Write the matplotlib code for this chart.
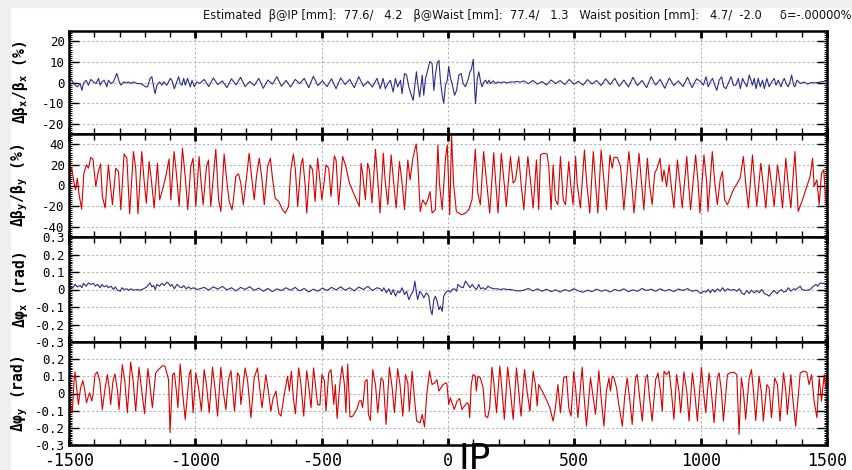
import numpy as np
import matplotlib
matplotlib.use('Agg')
import matplotlib.pyplot as plt
from matplotlib.ticker import MultipleLocator
from matplotlib.patches import Rectangle

# ---------------- data ----------------
# (s [mm], value) pairs, split in the parts that were read separately

# dBx/Bx (%)
bx_a = [(-1500, 1.5), (-1496, 2.0), (-1485, 0.3), (-1476, -1.3), (-1467, -2.1), (-1456, -0.5), (-1449, -3.8),
        (-1443, -0.5), (-1432, 1.1), (-1423, -1.3), (-1414, 1.5), (-1403, 0.3), (-1393, -0.5), (-1383, 2.0),
        (-1377, -1.3), (-1370, 0.3), (-1361, 1.1), (-1350, -2.1), (-1344, 1.1), (-1334, -0.5), (-1324, 0.3),
        (-1311, 4.4), (-1301, 0.3), (-1294, -1.3), (-1284, 0.3), (-1274, -0.2), (-1264, 0.3), (-1255, -0.5),
        (-1245, 0.3), (-1231, -0.5), (-1218, -0.5), (-1205, -1.3), (-1198, -2.1), (-1189, -2.1), (-1179, 2.0),
        (-1172, 2.8), (-1165, -2.1), (-1159, -5.4), (-1152, -1.3), (-1142, 0.3), (-1132, -1.3), (-1126, 0.3),
        (-1113, -1.3), (-1099, 2.0), (-1093, 1.1), (-1083, -3.0), (-1076, -0.5), (-1066, 2.8), (-1060, -0.5),
        (-1053, -1.3), (-1046, 2.0), (-1040, -1.3), (-1031, 2.0), (-1020, -2.1), (-1013, 1.1), (-1004, -2.1),
        (-994, 0.3), (-983, -0.5)]
bx_b_s = np.arange(-965, -280, 18)
bx_b = [1.5, -2.0, 2.2, -1.0, 0.8, -2.5, 1.8, -1.2, 2.5, -2.0, 0.5, -1.5, 2.0, -2.8, 1.2, -0.8, 2.8, -1.8, 1.0,
        -2.2, 1.5, -0.5, 2.0, -2.5, 3.0, -1.5, 0.8, -2.0, 1.8, -3.0, 2.2, -1.0, 1.5, -2.5, 2.8, -1.8, 0.6, -2.2, 2.0]
bx_c = [(-268, -3.0), (-257, 2.0), (-248, -3.0), (-238, -0.5), (-228, 1.1), (-217, -4.6), (-208, 2.0), (-199, -2.1),
        (-188, 1.1), (-182, -5.4), (-172, 4.4), (-164, 3.6), (-155, -2.1), (-149, -4.6), (-138, -8.7), (-129, 1.1),
        (-125, 5.2), (-120, -0.5), (-112, -7.0), (-102, 3.6), (-96, -6.2), (-89, 2.0), (-80, 6.1), (-72, 10.2),
        (-63, 9.3), (-56, -3.8), (-50, 3.6), (-43, 9.3), (-36, 10.7), (-30, 1.1), (-23, -6.2), (-17, -10.0),
        (-10, -1.3), (-3, 1.1), (3, 7.7), (10, 2.0), (16, -0.5), (26, -6.2), (34, -3.8), (43, 3.6), (52, 4.4),
        (60, -0.5), (69, -2.1), (79, 1.1), (87, 5.2), (92, 6.1), (100, 11.3), (105, -2.1), (109, -10.3), (116, 2.0),
        (122, 5.2), (129, 0.3), (135, -2.1), (142, 0.3), (149, 1.1), (155, -0.5), (162, 1.1), (168, -0.5),
        (179, 0.8), (188, -0.5), (197, 0.3), (208, -0.2), (221, 0.3), (234, -0.2), (248, 0.3), (261, 0.2),
        (274, 0.5), (287, 0.2)]
bx_d_s = np.arange(300, 985, 18)
bx_d = [0.8, -0.6, 1.0, -0.8, 0.5, -1.2, 1.2, -0.5, 0.9, -1.0, 1.5, -0.8, 0.6, -1.3, 1.4, -0.7, 1.0, -1.5, 1.8,
        -1.0, 2.0, -1.8, 1.2, -2.2, 2.5, -1.5, 1.0, -2.5, 2.8, -1.2, 1.5, -2.8, 2.2, -1.5, 0.8, -2.0, 2.5, -2.5, 1.8]
bx_e = [(1001, 0.3), (1011, -1.3), (1021, 2.8), (1030, -2.1), (1038, 0.3), (1047, 2.0), (1056, -1.3), (1064, -3.8),
        (1073, 1.1), (1083, 2.8), (1091, -2.1), (1100, -3.0), (1109, -0.5), (1120, 2.8), (1130, -1.3), (1139, -1.3),
        (1149, 2.0), (1157, -3.0), (1166, 2.0), (1172, 0.3), (1183, -2.1), (1192, 3.6), (1199, 1.1), (1205, -1.3),
        (1212, 2.0), (1219, -3.0), (1228, 2.0), (1236, -2.1), (1245, 1.1), (1252, -3.0), (1262, 2.0), (1271, -2.1),
        (1281, 0.3), (1291, 2.0), (1298, -1.3), (1307, 1.1), (1318, -2.1), (1324, 0.3), (1331, 2.0), (1338, -0.5),
        (1347, -2.1), (1355, 1.1), (1360, 3.6), (1368, -1.3), (1373, -2.1), (1381, 1.1), (1388, 0.3), (1397, -0.5),
        (1410, 0.3), (1423, -0.8), (1437, 0.0), (1450, -0.2), (1463, 0.0), (1476, 0.3), (1496, 0.7), (1500, 0.7)]

# dBy/By (%)
by_a = [(-1500, 8.7), (-1489, 16.8), (-1480, 2.3), (-1474, -4.2), (-1467, 7.1), (-1460, -9.0), (-1450, -22.9),
        (-1441, 11.9), (-1431, 20.0), (-1423, 16.8), (-1414, 27.1), (-1405, 25.5), (-1394, -1.0), (-1384, 13.5),
        (-1375, 21.0), (-1368, -10.6), (-1357, -21.9), (-1344, 20.0), (-1335, -2.6), (-1328, -18.7), (-1315, 16.8),
        (-1304, 13.5), (-1295, -23.5), (-1282, 30.6), (-1271, 26.5), (-1260, -27.4), (-1245, 32.9), (-1236, 16.8),
        (-1227, -27.4), (-1212, 32.9), (-1203, 5.5), (-1194, -17.1), (-1183, 23.2), (-1174, 5.5), (-1163, -21.9),
        (-1150, 21.6), (-1141, -13.9), (-1130, -4.2), (-1117, 8.7), (-1104, 25.8), (-1097, -13.9), (-1084, 32.9),
        (-1075, 11.9), (-1064, -20.3), (-1051, 36.1), (-1040, 8.7), (-1030, -23.5), (-1018, 18.4), (-1009, 26.5),
        (-998, -20.3), (-985, 28.1), (-978, 5.5), (-969, -18.7), (-956, 18.4), (-948, 24.8), (-939, -20.3),
        (-919, 35.2), (-908, -13.9), (-899, -25.2), (-886, 30.6), (-876, 5.5), (-866, -15.5), (-855, -23.5),
        (-850, -15.5), (-840, 8.7), (-829, 11.3), (-820, 2.3), (-810, -18.7), (-797, 8.7), (-787, 31.3),
        (-776, 5.5), (-767, -13.9), (-758, 8.7), (-747, 26.5), (-736, 5.5), (-727, -18.7), (-714, 18.4),
        (-703, 26.5), (-694, 5.5), (-684, -12.3), (-670, -15.5), (-655, -23.5), (-644, -26.8), (-631, -20.3),
        (-622, 15.2), (-612, 30.6), (-604, 15.2), (-595, -20.3), (-582, 20.0), (-575, 26.5), (-565, -1.0),
        (-559, -26.8), (-546, 20.0), (-536, 15.2), (-526, -15.5), (-516, 26.5), (-507, 5.5), (-499, -13.9),
        (-489, 5.5), (-483, 20.0), (-472, 16.8), (-463, -10.6), (-450, 28.7), (-443, 24.8), (-433, -18.7),
        (-417, 28.1), (-406, 20.0), (-390, 2.3), (-371, -9.0), (-351, -20.3), (-344, 21.6), (-338, 11.9),
        (-327, -13.9), (-318, 21.6), (-311, 15.2), (-301, -17.1), (-287, 35.2), (-278, 5.5), (-269, -26.8),
        (-256, 31.3), (-248, 2.3), (-238, -18.7), (-225, 29.7), (-216, 5.5), (-205, -21.9), (-192, 23.2),
        (-183, 5.5), (-172, -23.5), (-159, 24.8), (-150, 5.5), (-139, 26.5), (-126, 40.3), (-120, 24.8),
        (-110, -25.2), (-100, -13.9), (-89, -18.7), (-80, -13.9), (-71, -5.8), (-63, -26.8), (-50, -23.5),
        (-40, 39.4), (-34, 2.3), (-23, -23.5), (-10, 26.5), (-3, 39.4)]
by_b = [(7, -28.4), (14, 49.0), (22, 2.3), (33, -25.2), (42, -26.8), (55, -28.4), (69, -26.8), (82, -23.5),
        (95, -13.9), (108, 35.2), (118, -7.4), (128, -18.7), (141, 32.9), (152, 5.5), (165, -26.8), (181, 31.9),
        (188, 5.5), (198, -26.8), (211, 31.3), (221, 5.5), (231, -20.3), (247, 28.1), (258, 2.3), (267, 5.5),
        (280, 28.1), (289, 2.3), (300, -23.5), (316, 28.1), (326, 5.5), (337, -21.9), (350, 24.8), (359, -23.5),
        (366, 29.7), (379, 31.3), (392, 30.6), (399, 18.4), (408, -23.5), (416, 20.0), (425, -13.9), (435, -18.7),
        (445, 28.1), (456, -13.9), (465, -18.7), (478, 23.2), (485, 2.3), (495, -18.7), (505, 28.1), (511, 2.3),
        (524, -21.9), (540, 34.5), (548, 5.5), (561, -26.8), (575, 32.9), (584, 2.3), (593, -26.8), (606, 34.5),
        (617, 5.5), (627, -23.5), (641, 29.7), (650, 16.8), (657, 27.4), (670, 27.1), (683, 18.4), (696, -23.5),
        (716, 32.9), (727, 2.3), (736, -26.8), (756, 31.3), (765, 5.5), (775, -23.5), (789, 26.5), (797, 2.3),
        (808, -18.7), (818, 11.9), (828, 16.8), (839, 26.5), (848, 3.9), (855, 15.2), (865, -1.0), (875, 20.0),
        (884, -1.0), (894, -21.9), (908, 24.8), (918, 2.3), (927, -21.9), (945, 28.1), (952, 2.3), (960, -23.5),
        (980, 29.7), (990, 2.3), (997, -26.8), (1013, 29.7), (1024, 2.3), (1029, -25.2), (1046, 32.9), (1056, 2.3),
        (1066, -18.7), (1077, 5.5), (1086, 13.5), (1095, -13.9), (1106, -18.7), (1116, -12.3), (1129, -4.2),
        (1145, 2.3), (1156, 7.1), (1169, 28.1), (1178, 2.3), (1189, -21.9), (1205, 29.7), (1214, 2.3),
        (1222, -20.3), (1238, 21.6), (1247, 2.3), (1258, -21.9), (1271, 20.0), (1280, 2.3), (1291, -20.3),
        (1304, 20.0), (1314, 2.3), (1324, -21.9), (1337, 26.5), (1346, 2.3), (1357, -21.9), (1373, 32.9),
        (1380, 2.3), (1386, -25.2), (1403, -13.9), (1416, -4.2), (1433, 8.7), (1443, 26.5), (1449, -1.0),
        (1460, 5.5), (1469, -18.7), (1478, 11.9), (1487, 15.2), (1495, -13.9), (1500, -23.5)]

# dphi_x (rad)
px_a = [(-1500, 0.015), (-1496, 0.015), (-1485, 0.010), (-1476, 0.029), (-1467, 0.015), (-1456, 0.023),
        (-1449, 0.010), (-1443, 0.035), (-1432, 0.019), (-1423, 0.038), (-1414, 0.029), (-1403, 0.035),
        (-1396, 0.019), (-1387, 0.029), (-1377, 0.010), (-1370, 0.029), (-1361, 0.015), (-1350, 0.023),
        (-1344, 0.010), (-1334, 0.019), (-1324, 0.0), (-1317, 0.015), (-1308, -0.004), (-1297, -0.010),
        (-1291, 0.010), (-1282, 0.0), (-1271, 0.004), (-1264, -0.006), (-1255, 0.004), (-1245, -0.004),
        (-1231, 0.0), (-1218, -0.004), (-1205, 0.004), (-1192, 0.015), (-1179, 0.038), (-1172, 0.015),
        (-1165, 0.023), (-1159, 0.0), (-1152, 0.029), (-1142, 0.019), (-1132, 0.035), (-1123, 0.023),
        (-1113, 0.042), (-1106, 0.035), (-1099, 0.019), (-1093, 0.029), (-1083, 0.004), (-1073, 0.029),
        (-1062, 0.015), (-1053, 0.010), (-1046, 0.023), (-1036, 0.004), (-1027, 0.015), (-1017, 0.004),
        (-1007, 0.010), (-994, 0.0), (-983, 0.004)]
px_b_s = np.arange(-965, -280, 18)
px_b = [0.012, -0.004, 0.015, 0.002, 0.018, -0.002, 0.010, -0.008, 0.012, 0.000, 0.016, -0.005, 0.008, -0.010,
        0.006, -0.012, 0.004, -0.006, 0.010, -0.004, 0.012, -0.008, 0.006, -0.014, 0.002, -0.010, 0.008, -0.006,
        0.012, -0.002, 0.015, -0.004, 0.010, -0.008, 0.014, 0.000, 0.018, -0.006, 0.010]
px_c = [(-268, 0.004), (-261, -0.010), (-254, 0.010), (-244, -0.019), (-234, 0.004), (-225, -0.029), (-217, 0.0),
        (-208, -0.038), (-199, -0.010), (-191, -0.019), (-182, 0.010), (-172, -0.029), (-164, -0.010),
        (-155, -0.058), (-146, -0.029), (-138, -0.010), (-131, 0.048), (-125, -0.019), (-120, -0.058),
        (-112, -0.010), (-102, -0.029), (-96, -0.048), (-85, -0.019), (-76, -0.038), (-69, -0.115), (-63, -0.144),
        (-56, -0.058), (-50, -0.038), (-43, -0.067), (-36, -0.115), (-30, -0.096), (-23, -0.125), (-17, -0.038),
        (-10, -0.019), (-3, -0.010), (3, -0.006), (10, -0.015), (16, 0.0), (26, 0.004), (34, -0.010), (39, 0.029),
        (50, 0.015), (60, 0.010), (69, 0.048), (79, 0.029), (87, 0.010), (96, 0.029), (105, 0.010), (113, 0.0),
        (122, 0.029), (129, 0.004), (139, 0.010), (149, 0.0), (158, 0.019), (168, 0.010), (182, 0.004),
        (195, 0.004), (208, 0.0), (221, 0.004), (234, 0.0), (248, 0.0), (261, -0.004), (274, -0.008), (287, -0.008)]
px_d_s = np.arange(300, 985, 18)
px_d = [-0.004, 0.006, -0.008, 0.004, -0.010, 0.002, -0.012, -0.002, -0.015, 0.000, -0.010, 0.004, -0.008,
        -0.016, -0.004, -0.012, 0.002, -0.010, -0.002, -0.014, 0.000, -0.008, 0.004, -0.012, -0.002, -0.010,
        0.006, -0.006, 0.002, -0.010, 0.004, -0.008, 0.000, -0.012, 0.003, -0.006, 0.005, -0.010, -0.004]
px_e = [(1001, -0.023), (1011, -0.010), (1021, -0.015), (1030, 0.0), (1038, -0.019), (1047, 0.0), (1056, -0.015),
        (1067, 0.004), (1077, -0.010), (1087, 0.010), (1096, -0.010), (1106, 0.004), (1120, -0.004), (1133, 0.0),
        (1143, -0.010), (1153, 0.004), (1162, -0.019), (1172, -0.029), (1183, -0.006), (1192, -0.023),
        (1201, -0.004), (1212, -0.019), (1223, -0.006), (1232, -0.019), (1241, 0.0), (1252, -0.023),
        (1262, -0.029), (1271, -0.038), (1281, -0.019), (1291, -0.006), (1302, -0.023), (1311, -0.010),
        (1320, 0.0), (1328, -0.015), (1338, -0.010), (1347, 0.010), (1357, -0.010), (1368, 0.004), (1377, 0.0),
        (1386, 0.010), (1394, 0.019), (1400, 0.0), (1410, -0.004), (1423, -0.004), (1434, 0.0), (1443, 0.015),
        (1456, 0.029), (1463, 0.019), (1474, 0.038), (1483, 0.035), (1496, 0.035), (1500, 0.035)]

# dphi_y (rad)
py_a = [(-1500, -0.006), (-1493, -0.073), (-1487, -0.112), (-1480, 0.072), (-1476, 0.126), (-1471, 0.052),
        (-1463, -0.064), (-1454, 0.033), (-1445, 0.075), (-1437, 0.014), (-1431, -0.054), (-1423, -0.015),
        (-1418, 0.004), (-1410, -0.044), (-1405, -0.006), (-1397, 0.110), (-1388, 0.126), (-1378, 0.072),
        (-1368, -0.093), (-1357, 0.033), (-1348, 0.110), (-1341, 0.033), (-1335, -0.064), (-1326, 0.072),
        (-1318, 0.114), (-1308, 0.014), (-1302, -0.093), (-1289, 0.168), (-1279, 0.072), (-1269, -0.112),
        (-1256, 0.182), (-1246, 0.072), (-1236, -0.103), (-1223, 0.153), (-1212, 0.014), (-1201, -0.118),
        (-1188, 0.145), (-1180, 0.052), (-1170, -0.083), (-1157, 0.120), (-1146, 0.139), (-1130, 0.162),
        (-1120, 0.159), (-1106, 0.081), (-1100, -0.228), (-1090, 0.110), (-1083, 0.120), (-1075, 0.014),
        (-1069, -0.083), (-1060, 0.172), (-1051, 0.014), (-1040, -0.151), (-1024, 0.110), (-1018, 0.139),
        (-1009, -0.112), (-998, 0.120), (-987, 0.033), (-976, -0.103), (-965, 0.139), (-956, 0.052),
        (-945, -0.112), (-932, 0.153), (-921, 0.014), (-912, -0.132), (-899, 0.153), (-890, 0.014),
        (-879, -0.093), (-869, 0.081), (-859, 0.133), (-853, 0.033), (-845, -0.103), (-833, 0.120),
        (-826, 0.101), (-820, -0.064), (-803, 0.149), (-793, 0.072), (-780, -0.141), (-767, 0.091),
        (-754, 0.149), (-744, 0.014), (-736, -0.083), (-721, 0.110), (-711, 0.014), (-701, -0.103),
        (-692, -0.025), (-681, 0.014), (-670, -0.112), (-661, -0.132), (-648, -0.006), (-635, 0.101),
        (-628, 0.014), (-620, 0.130), (-612, -0.025), (-604, -0.118), (-591, 0.149), (-582, 0.052),
        (-571, -0.132), (-559, 0.133), (-552, 0.052), (-542, -0.083), (-532, 0.149), (-522, 0.014),
        (-516, -0.064), (-507, -0.068), (-499, 0.110), (-489, 0.072), (-483, -0.103), (-472, 0.120),
        (-463, 0.139), (-452, -0.064), (-446, 0.052), (-439, -0.145), (-427, 0.072), (-419, 0.159),
        (-410, 0.052), (-404, -0.112), (-397, 0.172), (-388, -0.137), (-377, -0.132), (-361, -0.093),
        (-351, -0.044), (-344, -0.041), (-338, -0.083), (-328, 0.072), (-320, 0.081), (-315, -0.122),
        (-307, -0.157), (-298, 0.139), (-287, 0.052), (-278, -0.112), (-265, 0.091), (-256, 0.072),
        (-245, -0.180), (-232, 0.153), (-221, 0.033), (-212, -0.112), (-199, 0.145), (-190, 0.052),
        (-179, -0.132), (-168, 0.110), (-159, 0.062), (-153, -0.103), (-142, 0.130), (-133, -0.025),
        (-124, -0.161), (-110, -0.170), (-102, -0.122), (-93, -0.195), (-84, -0.006), (-73, 0.130),
        (-63, 0.052), (-53, 0.062), (-44, 0.081), (-36, 0.014), (-20, 0.052), (-7, 0.062)]
py_b = [(-4, 0.052), (3, -0.064), (9, -0.025), (16, -0.054), (25, -0.093), (36, -0.044), (46, -0.029),
        (55, -0.093), (65, -0.073), (75, -0.054), (82, -0.064), (86, -0.141), (92, 0.052), (99, 0.110),
        (108, 0.101), (112, 0.014), (118, 0.101), (128, 0.091), (139, 0.033), (148, -0.132), (157, -0.141),
        (165, -0.083), (174, 0.153), (181, 0.072), (192, -0.112), (205, 0.159), (214, 0.014), (223, -0.151),
        (236, 0.153), (247, 0.014), (258, -0.151), (271, 0.149), (280, 0.014), (289, -0.132), (303, 0.139),
        (313, 0.014), (324, -0.103), (337, 0.130), (346, 0.052), (353, -0.073), (359, 0.052), (373, 0.014),
        (392, -0.044), (403, -0.083), (416, -0.161), (425, -0.083), (435, 0.052), (445, -0.112), (458, 0.091),
        (469, 0.101), (478, -0.083), (487, -0.132), (498, 0.130), (505, 0.033), (514, -0.141), (531, 0.153),
        (538, -0.006), (548, -0.190), (564, 0.091), (575, -0.025), (584, -0.122), (597, 0.133), (606, -0.025),
        (617, -0.190), (627, 0.014), (637, 0.091), (643, 0.014), (650, 0.101), (657, 0.091), (667, 0.033),
        (676, -0.064), (690, -0.190), (699, -0.025), (709, 0.091), (720, -0.044), (729, -0.180), (742, 0.091),
        (749, 0.110), (760, -0.044), (769, -0.161), (782, 0.091), (789, 0.110), (799, -0.044), (808, -0.161),
        (822, 0.081), (831, 0.120), (841, 0.014), (848, -0.103), (855, 0.130), (865, 0.110), (875, 0.130),
        (884, 0.014), (894, -0.151), (905, 0.110), (914, 0.014), (921, -0.112), (934, 0.126), (945, 0.014),
        (954, -0.161), (967, 0.120), (976, 0.014), (987, -0.161), (1003, 0.153), (1011, 0.014), (1020, -0.112),
        (1033, 0.120), (1042, 0.014), (1053, -0.170), (1066, 0.091), (1073, 0.120), (1082, 0.014),
        (1090, -0.161), (1106, 0.110), (1116, 0.120), (1132, 0.124), (1143, 0.110), (1152, -0.238),
        (1161, 0.091), (1169, 0.014), (1178, -0.151), (1192, 0.091), (1201, 0.139), (1209, 0.014),
        (1218, -0.157), (1231, 0.101), (1240, 0.014), (1248, -0.161), (1262, 0.052), (1271, 0.033),
        (1280, -0.141), (1293, 0.091), (1304, 0.052), (1314, -0.161), (1328, 0.120), (1337, 0.014),
        (1343, -0.122), (1357, 0.110), (1363, -0.006), (1376, -0.190), (1394, 0.120), (1407, 0.130),
        (1420, 0.124), (1429, 0.052), (1439, 0.110), (1449, -0.044), (1460, -0.141), (1469, 0.091),
        (1478, -0.044), (1489, 0.110), (1495, 0.033), (1500, 0.110)]

header = ('Estimated  \u03b2@IP [mm]:  77.6/   4.2   \u03b2@Waist [mm]:  77.4/   1.3   '
          'Waist position [mm]:   4.7/  -2.0     \u03b4=-.00000%')
x_ticks = [-1500, -1000, -500, 0, 500, 1000, 1500]


def join(*parts):
    s, v = [], []
    for p in parts:
        if isinstance(p, tuple):
            s.extend(p[0]); v.extend(p[1])
        else:
            s.extend(q[0] for q in p); v.extend(q[1] for q in p)
    return np.array(s, float), np.array(v, float)


bx = join(bx_a, (bx_b_s, bx_b), bx_c, (bx_d_s, bx_d), bx_e)
by = join(by_a, by_b)
phx = join(px_a, (px_b_s, px_b), px_c, (px_d_s, px_d), px_e)
phy = join(py_a, py_b)

plt.rcParams['font.family'] = ['DejaVu Sans Mono']
plt.rcParams['axes.unicode_minus'] = False
plt.rcParams['mathtext.fontset'] = 'custom'
plt.rcParams['mathtext.rm'] = 'DejaVu Sans Mono:bold'
plt.rcParams['mathtext.it'] = 'DejaVu Sans Mono:bold'
plt.rcParams['mathtext.bf'] = 'DejaVu Sans Mono:bold'
plt.rcParams['mathtext.default'] = 'regular'

blue = '#2c2c8a'
red = '#d80000'

panels = [
    (bx, blue, (-25, 25), [-20, -10, 0, 10, 20], ['-20', '-10', '0', '10', '20'], 1,
     r'$\Delta\beta_x/\beta_x$ (%)'),
    (by, red, (-50, 50), [-40, -20, 0, 20, 40], ['-40', '-20', '0', '20', '40'], 2,
     r'$\Delta\beta_y/\beta_y$ (%)'),
    (phx, blue, (-0.3, 0.3), [-0.3, -0.2, -0.1, 0, 0.1, 0.2, 0.3],
     ['-0.3', '-0.2', '-0.1', '0', '0.1', '0.2', '0.3'], 0.01, r'$\Delta\varphi_x$ (rad)'),
    (phy, red, (-0.3, 0.3), [-0.3, -0.2, -0.1, 0, 0.1, 0.2],
     ['-0.3', '-0.2', '-0.1', '0', '0.1', '0.2'], 0.01, r'$\Delta\varphi_y$ (rad)'),
]

W, H = 852, 470
fig = plt.figure(figsize=(W / 100, H / 100), dpi=100)
fig.patch.set_facecolor('white')
fig.patches.append(Rectangle((0, 0), 10 / W, 1, transform=fig.transFigure, color='#eef0f0', zorder=-5))
fig.patches.append(Rectangle((0, 1 - 7 / H), 1, 7 / H, transform=fig.transFigure, color='#eef0f0', zorder=-5))

edges = [31, 134, 237, 342, 445]
left, right = 69, 827
for i, (data, col, lim, ticks, labels, minor, ylab) in enumerate(panels):
    top, bot = edges[i], edges[i + 1]
    ax = fig.add_axes([left / W, 1 - bot / H, (right - left) / W, (bot - top) / H])
    ax.plot(data[0], data[1], color=col, lw=0.8)
    ax.set_xlim(-1500, 1500)
    ax.set_ylim(*lim)
    ax.set_xticks(x_ticks)
    ax.xaxis.set_minor_locator(MultipleLocator(100))
    ax.set_yticks(ticks, labels)
    ax.yaxis.set_minor_locator(MultipleLocator(minor))
    ax.tick_params(which='both', direction='in', top=True, right=True, colors='black')
    ax.tick_params(which='major', axis='x', length=5, width=2)
    ax.tick_params(which='minor', axis='x', length=4, width=1)
    ax.tick_params(which='major', axis='y', length=7, width=1, labelsize=9, pad=3)
    ax.tick_params(which='minor', axis='y', length=2.5, width=0.7)
    ax.tick_params(axis='x', labelsize=12, pad=5)
    if i < 3:
        ax.tick_params(axis='x', labelbottom=False)
    else:
        ax.set_xticks(x_ticks, [str(v) for v in x_ticks])
    ax.grid(True, which='major', color='#b4b4b4', linestyle=(0, (2, 2)), linewidth=0.8)
    for sp in ax.spines.values():
        sp.set_linewidth(1.8)
    ax.set_ylabel(ylab, fontsize=10.5, fontweight='bold')
    ax.yaxis.set_label_coords(-0.052, 0.5)

fig.text(203 / W, 1 - 15 / H, header, fontsize=8.3, va='center', ha='left',
         family=['Liberation Sans Narrow', 'DejaVu Sans'], color='#111111')
fig.text(458 / W, 1 / H, 'IP', fontsize=26, va='baseline', ha='left', family='DejaVu Sans')

fig.savefig('out.png', dpi=100)
